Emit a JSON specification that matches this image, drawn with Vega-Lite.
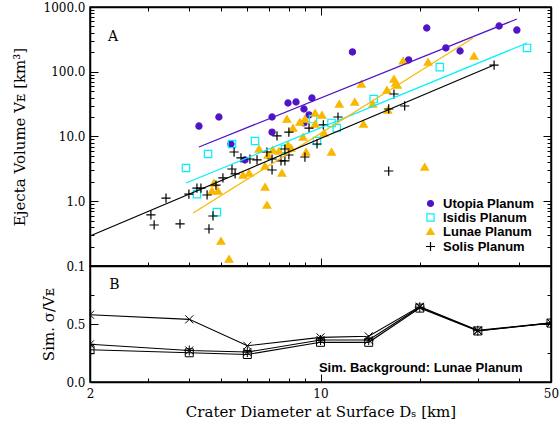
{
  "$schema": "https://vega.github.io/schema/vega-lite/v6.json",
  "background": "white",
  "padding": {"left": 11, "top": 0, "right": 1, "bottom": 0},
  "config": {
    "view": {"stroke": "black", "strokeWidth": 1.5},
    "axis": {"grid": false, "domainColor": "black", "domainWidth": 1.5, "tickColor": "black", "tickWidth": 1, "labelFont": "DejaVu Serif", "labelFontSize": 12, "labelColor": "black", "titleFont": "DejaVu Serif", "titleFontSize": 15, "titleFontWeight": "normal", "titleColor": "black", "labelOverlap": false, "labelFlush": false, "labelBound": false}
  },
  "datasets": {
    "pts": [
      {"region": "Utopia Planum", "D": 4.28, "V": 14.5},
      {"region": "Utopia Planum", "D": 4.92, "V": 20.0},
      {"region": "Utopia Planum", "D": 7.13, "V": 20.0},
      {"region": "Utopia Planum", "D": 7.13, "V": 11.7},
      {"region": "Utopia Planum", "D": 7.97, "V": 32.9},
      {"region": "Utopia Planum", "D": 8.43, "V": 34.1},
      {"region": "Utopia Planum", "D": 8.91, "V": 26.6},
      {"region": "Utopia Planum", "D": 9.23, "V": 21.5},
      {"region": "Utopia Planum", "D": 8.91, "V": 16.2},
      {"region": "Utopia Planum", "D": 9.42, "V": 39.3},
      {"region": "Utopia Planum", "D": 5.35, "V": 7.66},
      {"region": "Utopia Planum", "D": 5.90, "V": 4.34},
      {"region": "Utopia Planum", "D": 12.5, "V": 202},
      {"region": "Utopia Planum", "D": 18.5, "V": 152},
      {"region": "Utopia Planum", "D": 21.0, "V": 474},
      {"region": "Utopia Planum", "D": 24.0, "V": 233},
      {"region": "Utopia Planum", "D": 26.5, "V": 209},
      {"region": "Utopia Planum", "D": 34.8, "V": 509},
      {"region": "Utopia Planum", "D": 39.4, "V": 441},
      {"region": "Isidis Planum", "D": 3.91, "V": 3.26},
      {"region": "Isidis Planum", "D": 4.56, "V": 5.37},
      {"region": "Isidis Planum", "D": 5.39, "V": 7.66},
      {"region": "Isidis Planum", "D": 6.33, "V": 8.52},
      {"region": "Isidis Planum", "D": 7.80, "V": 6.41},
      {"region": "Isidis Planum", "D": 4.22, "V": 1.29},
      {"region": "Isidis Planum", "D": 4.85, "V": 0.68},
      {"region": "Isidis Planum", "D": 9.49, "V": 18.6},
      {"region": "Isidis Planum", "D": 9.76, "V": 8.52},
      {"region": "Isidis Planum", "D": 10.8, "V": 16.2},
      {"region": "Isidis Planum", "D": 11.2, "V": 13.5},
      {"region": "Isidis Planum", "D": 14.5, "V": 37.9},
      {"region": "Isidis Planum", "D": 23.0, "V": 118},
      {"region": "Isidis Planum", "D": 42.3, "V": 233},
      {"region": "Lunae Planum", "D": 4.75, "V": 1.91},
      {"region": "Lunae Planum", "D": 4.69, "V": 1.44},
      {"region": "Lunae Planum", "D": 4.89, "V": 1.44},
      {"region": "Lunae Planum", "D": 4.99, "V": 0.243},
      {"region": "Lunae Planum", "D": 5.28, "V": 0.128},
      {"region": "Lunae Planum", "D": 5.82, "V": 2.54},
      {"region": "Lunae Planum", "D": 6.07, "V": 2.73},
      {"region": "Lunae Planum", "D": 6.79, "V": 1.66},
      {"region": "Lunae Planum", "D": 6.88, "V": 0.875},
      {"region": "Lunae Planum", "D": 7.64, "V": 2.73},
      {"region": "Lunae Planum", "D": 6.79, "V": 3.50},
      {"region": "Lunae Planum", "D": 6.51, "V": 6.41},
      {"region": "Lunae Planum", "D": 6.93, "V": 5.18},
      {"region": "Lunae Planum", "D": 7.17, "V": 6.19},
      {"region": "Lunae Planum", "D": 7.48, "V": 5.97},
      {"region": "Lunae Planum", "D": 7.97, "V": 7.39},
      {"region": "Lunae Planum", "D": 8.14, "V": 6.64},
      {"region": "Lunae Planum", "D": 7.91, "V": 18.6},
      {"region": "Lunae Planum", "D": 8.25, "V": 13.5},
      {"region": "Lunae Planum", "D": 8.66, "V": 16.7},
      {"region": "Lunae Planum", "D": 8.97, "V": 18.6},
      {"region": "Lunae Planum", "D": 8.85, "V": 9.82},
      {"region": "Lunae Planum", "D": 9.04, "V": 5.76},
      {"region": "Lunae Planum", "D": 9.63, "V": 23.1},
      {"region": "Lunae Planum", "D": 10.1, "V": 21.5},
      {"region": "Lunae Planum", "D": 9.63, "V": 15.6},
      {"region": "Lunae Planum", "D": 10.25, "V": 11.3},
      {"region": "Lunae Planum", "D": 10.8, "V": 5.76},
      {"region": "Lunae Planum", "D": 11.4, "V": 31.8},
      {"region": "Lunae Planum", "D": 12.7, "V": 34.1},
      {"region": "Lunae Planum", "D": 13.3, "V": 64.7},
      {"region": "Lunae Planum", "D": 13.5, "V": 15.6},
      {"region": "Lunae Planum", "D": 14.4, "V": 31.8},
      {"region": "Lunae Planum", "D": 16.0, "V": 25.7},
      {"region": "Lunae Planum", "D": 15.9, "V": 52.3},
      {"region": "Lunae Planum", "D": 16.7, "V": 77.3},
      {"region": "Lunae Planum", "D": 16.9, "V": 67.0},
      {"region": "Lunae Planum", "D": 17.1, "V": 62.4},
      {"region": "Lunae Planum", "D": 17.8, "V": 147},
      {"region": "Lunae Planum", "D": 21.2, "V": 141},
      {"region": "Lunae Planum", "D": 29.2, "V": 175},
      {"region": "Lunae Planum", "D": 20.7, "V": 3.38},
      {"region": "Solis Planum", "D": 3.06, "V": 0.614},
      {"region": "Solis Planum", "D": 3.13, "V": 0.430},
      {"region": "Solis Planum", "D": 3.40, "V": 1.12},
      {"region": "Solis Planum", "D": 3.75, "V": 0.446},
      {"region": "Solis Planum", "D": 3.99, "V": 1.29},
      {"region": "Solis Planum", "D": 4.22, "V": 1.60},
      {"region": "Solis Planum", "D": 4.34, "V": 1.60},
      {"region": "Solis Planum", "D": 4.53, "V": 1.25},
      {"region": "Solis Planum", "D": 4.72, "V": 0.592},
      {"region": "Solis Planum", "D": 4.59, "V": 0.373},
      {"region": "Solis Planum", "D": 4.82, "V": 1.78},
      {"region": "Solis Planum", "D": 5.06, "V": 2.29},
      {"region": "Solis Planum", "D": 5.39, "V": 3.15},
      {"region": "Solis Planum", "D": 5.51, "V": 2.64},
      {"region": "Solis Planum", "D": 5.47, "V": 5.76},
      {"region": "Solis Planum", "D": 5.74, "V": 4.66},
      {"region": "Solis Planum", "D": 6.11, "V": 4.49},
      {"region": "Solis Planum", "D": 6.42, "V": 4.34},
      {"region": "Solis Planum", "D": 6.88, "V": 5.76},
      {"region": "Solis Planum", "D": 7.13, "V": 4.49},
      {"region": "Solis Planum", "D": 7.13, "V": 3.04},
      {"region": "Solis Planum", "D": 7.38, "V": 10.2},
      {"region": "Solis Planum", "D": 8.02, "V": 11.7},
      {"region": "Solis Planum", "D": 7.80, "V": 6.41},
      {"region": "Solis Planum", "D": 7.59, "V": 4.19},
      {"region": "Solis Planum", "D": 7.80, "V": 4.19},
      {"region": "Solis Planum", "D": 8.02, "V": 5.18},
      {"region": "Solis Planum", "D": 8.97, "V": 4.82},
      {"region": "Solis Planum", "D": 9.23, "V": 13.5},
      {"region": "Solis Planum", "D": 10.2, "V": 15.1},
      {"region": "Solis Planum", "D": 11.3, "V": 20.0},
      {"region": "Solis Planum", "D": 9.76, "V": 7.66},
      {"region": "Solis Planum", "D": 16.1, "V": 26.6},
      {"region": "Solis Planum", "D": 16.7, "V": 45.3},
      {"region": "Solis Planum", "D": 18.0, "V": 29.6},
      {"region": "Solis Planum", "D": 16.1, "V": 2.93},
      {"region": "Solis Planum", "D": 33.6, "V": 127}
    ],
    "fits": [
      {"region": "Utopia Planum", "D": 4.28, "V": 6.89},
      {"region": "Utopia Planum", "D": 39.4, "V": 653},
      {"region": "Isidis Planum", "D": 3.91, "V": 1.91},
      {"region": "Isidis Planum", "D": 42.3, "V": 278},
      {"region": "Lunae Planum", "D": 4.11, "V": 0.659},
      {"region": "Lunae Planum", "D": 29.0, "V": 332},
      {"region": "Solis Planum", "D": 2.0, "V": 0.29},
      {"region": "Solis Planum", "D": 33.6, "V": 127}
    ],
    "sim": [
      {"series": "x", "D": 2, "s": 0.58},
      {"series": "x", "D": 4, "s": 0.54},
      {"series": "x", "D": 6, "s": 0.312},
      {"series": "x", "D": 10, "s": 0.385},
      {"series": "x", "D": 14, "s": 0.394},
      {"series": "x", "D": 20, "s": 0.65},
      {"series": "x", "D": 30, "s": 0.445},
      {"series": "x", "D": 50, "s": 0.51},
      {"series": "ast", "D": 2, "s": 0.325},
      {"series": "ast", "D": 4, "s": 0.272},
      {"series": "ast", "D": 6, "s": 0.258},
      {"series": "ast", "D": 10, "s": 0.362},
      {"series": "ast", "D": 14, "s": 0.362},
      {"series": "ast", "D": 20, "s": 0.645},
      {"series": "ast", "D": 30, "s": 0.442},
      {"series": "ast", "D": 50, "s": 0.508},
      {"series": "sq", "D": 2, "s": 0.278},
      {"series": "sq", "D": 4, "s": 0.252},
      {"series": "sq", "D": 6, "s": 0.237},
      {"series": "sq", "D": 10, "s": 0.342},
      {"series": "sq", "D": 14, "s": 0.342},
      {"series": "sq", "D": 20, "s": 0.637},
      {"series": "sq", "D": 30, "s": 0.44},
      {"series": "sq", "D": 50, "s": 0.508}
    ]
  },
  "spacing": 0,
  "bounds": "flush",
  "resolve": {
    "scale": {"shape": "independent", "fill": "independent", "stroke": "independent", "color": "independent"},
    "legend": {"shape": "independent", "fill": "independent", "stroke": "independent", "color": "independent"}
  },
  "vconcat": [
    {
      "width": 461,
      "height": 259,
      "resolve": {"scale": {"x": "independent", "y": "independent"}},
      "layer": [
        {
          "data": {"name": "pts"},
          "mark": {"type": "point", "filled": true, "size": 38, "strokeWidth": 1.2, "opacity": 1},
          "encoding": {
            "x": {"field": "D", "type": "quantitative",
              "scale": {"type": "log", "domain": [2, 50], "nice": false},
              "axis": {"orient": "bottom", "values": [2,3,4,5,6,7,8,9,10,20,30,40,50], "labels": false, "title": null,
                "tickSize": {"condition": {"test": "indexof([2,10,50], datum.value) >= 0", "value": -8}, "value": -4}}},
            "y": {"field": "V", "type": "quantitative",
              "scale": {"type": "log", "domain": [0.1, 1000], "nice": false},
              "axis": {"orient": "left", "values": [0.1,0.2,0.3,0.4,0.5,0.6,0.7,0.8,0.9,1,2,3,4,5,6,7,8,9,10,20,30,40,50,60,70,80,90,100,200,300,400,500,600,700,800,900,1000],
                "labelExpr": "indexof([0.1,1,10,100,1000], datum.value) >= 0 ? format(datum.value, '.1f') : ''",
                "labelPadding": 13,
                "tickSize": {"condition": {"test": "indexof([0.1,1,10,100,1000], datum.value) >= 0", "value": -8}, "value": -4},
                "title": "Ejecta Volume Vᴇ [km³]", "titleX": -71, "titleBaseline": "middle", "titleAlign": "center", "titleAngle": 270}},
            "shape": {"field": "region", "type": "nominal",
              "scale": {"domain": ["Utopia Planum", "Isidis Planum", "Lunae Planum", "Solis Planum"],
                "range": ["circle", "M-1.2,-1.2L1.2,-1.2L1.2,1.2L-1.2,1.2Z", "M0,-1.1L1.25,1L-1.25,1Z", "M-1.5,0L1.5,0M0,-1.5L0,1.5"]},
              "legend": {"title": null, "orient": "none", "legendX": 334, "legendY": 190, "padding": 0, "labelFont": "Liberation Sans", "labelFontWeight": "bold", "labelFontSize": 13, "labelColor": "black", "symbolSize": 36, "symbolStrokeWidth": 1.2, "rowPadding": 0, "labelOffset": 6}},
            "fill": {"field": "region", "type": "nominal",
              "scale": {"domain": ["Utopia Planum", "Isidis Planum", "Lunae Planum", "Solis Planum"],
                "range": ["#5014c8", "transparent", "#f9b800", "transparent"]},
              "legend": {"title": null, "orient": "none", "legendX": 334, "legendY": 190, "padding": 0, "labelFont": "Liberation Sans", "labelFontWeight": "bold", "labelFontSize": 13, "labelColor": "black", "symbolSize": 36, "symbolStrokeWidth": 1.2, "rowPadding": 0, "labelOffset": 6}},
            "stroke": {"field": "region", "type": "nominal",
              "scale": {"domain": ["Utopia Planum", "Isidis Planum", "Lunae Planum", "Solis Planum"],
                "range": ["#5014c8", "#00f0ff", "#f9b800", "#000000"]},
              "legend": {"title": null, "orient": "none", "legendX": 334, "legendY": 190, "padding": 0, "labelFont": "Liberation Sans", "labelFontWeight": "bold", "labelFontSize": 13, "labelColor": "black", "symbolSize": 36, "symbolStrokeWidth": 1.2, "rowPadding": 0, "labelOffset": 6}}
          }
        },
        {
          "data": {"name": "fits"},
          "mark": {"type": "line", "strokeWidth": 1.2},
          "encoding": {
            "x": {"field": "D", "type": "quantitative",
              "scale": {"type": "log", "domain": [2, 50], "nice": false},
              "axis": {"orient": "top", "values": [2,3,4,5,6,7,8,9,10,20,30,40,50], "labels": false, "title": null,
                "tickSize": {"condition": {"test": "indexof([2,10,50], datum.value) >= 0", "value": -8}, "value": -4}}},
            "y": {"field": "V", "type": "quantitative",
              "scale": {"type": "log", "domain": [0.1, 1000], "nice": false},
              "axis": {"orient": "right", "values": [0.1,0.2,0.3,0.4,0.5,0.6,0.7,0.8,0.9,1,2,3,4,5,6,7,8,9,10,20,30,40,50,60,70,80,90,100,200,300,400,500,600,700,800,900,1000], "labels": false, "title": null,
                "tickSize": {"condition": {"test": "indexof([0.1,1,10,100,1000], datum.value) >= 0", "value": -8}, "value": -4}}},
            "stroke": {"field": "region", "type": "nominal",
              "scale": {"domain": ["Utopia Planum", "Isidis Planum", "Lunae Planum", "Solis Planum"],
                "range": ["#5014c8", "#00f0ff", "#f9b800", "#000000"]},
              "legend": null},
            "detail": {"field": "region"}
          }
        },
        {
          "data": {"values": [{"D": 2.35, "V": 344, "t": "A"}]},
          "mark": {"type": "text", "font": "DejaVu Serif", "fontSize": 14, "align": "center", "baseline": "middle", "color": "black"},
          "encoding": {
            "x": {"field": "D", "type": "quantitative", "scale": {"type": "log", "domain": [2, 50], "nice": false}, "axis": null},
            "y": {"field": "V", "type": "quantitative", "scale": {"type": "log", "domain": [0.1, 1000], "nice": false}, "axis": null},
            "text": {"field": "t"}
          }
        }
      ]
    },
    {
      "width": 461,
      "height": 116,
      "resolve": {"scale": {"x": "independent", "y": "independent"}},
      "layer": [
        {
          "data": {"name": "sim"},
          "mark": {"type": "line", "color": "black", "strokeWidth": 1.1, "clip": true},
          "encoding": {
            "x": {"field": "D", "type": "quantitative",
              "scale": {"type": "log", "domain": [2, 50], "nice": false},
              "axis": {"orient": "bottom", "values": [2,3,4,5,6,7,8,9,10,20,30,40,50],
                "labelExpr": "indexof([2,10,50], datum.value) >= 0 ? format(datum.value, 'd') : ''",
                "labelPadding": 14,
                "tickSize": {"condition": {"test": "indexof([2,10,50], datum.value) >= 0", "value": -8}, "value": -4},
                "title": "Crater Diameter at Surface Dₛ [km]", "titlePadding": 1}},
            "y": {"field": "s", "type": "quantitative",
              "scale": {"domain": [0, 1], "nice": false, "zero": false},
              "axis": {"orient": "left", "values": [0, 0.25, 0.5, 0.75, 1],
                "labelExpr": "datum.value == 0 || datum.value == 0.5 ? format(datum.value, '.1f') : ''",
                "labelPadding": 13,
                "tickSize": {"condition": {"test": "datum.value == 0 || datum.value == 0.5 || datum.value == 1", "value": -8}, "value": -4},
                "title": "Sim. σ/Vᴇ", "titleX": -42, "titleBaseline": "middle", "titleAlign": "center", "titleAngle": 270}},
            "detail": {"field": "series"}
          }
        },
        {
          "data": {"name": "sim"},
          "mark": {"type": "point", "filled": false, "size": 64, "strokeWidth": 1, "color": "black", "opacity": 1, "clip": true},
          "encoding": {
            "x": {"field": "D", "type": "quantitative", "scale": {"type": "log", "domain": [2, 50], "nice": false}, "axis": null},
            "y": {"field": "s", "type": "quantitative", "scale": {"domain": [0, 1], "nice": false, "zero": false}, "axis": null},
            "shape": {"field": "series", "type": "nominal",
              "scale": {"domain": ["x", "ast", "sq"], "range": ["M-1,-1L1,1M-1,1L1,-1", "M-1,-1L1,1M-1,1L1,-1M-1.25,0L1.25,0M0,-1.25L0,1.25", "square"]},
              "legend": null}
          }
        },
        {
          "data": {"values": [{"D": 2.37, "s": 0.836, "t": "B"}]},
          "mark": {"type": "text", "font": "DejaVu Serif", "fontSize": 14, "align": "center", "baseline": "middle", "color": "black"},
          "encoding": {
            "x": {"field": "D", "type": "quantitative", "scale": {"type": "log", "domain": [2, 50], "nice": false}, "axis": null},
            "y": {"field": "s", "type": "quantitative", "scale": {"domain": [0, 1], "nice": false, "zero": false},
              "axis": {"orient": "right", "values": [0, 0.25, 0.5, 0.75, 1], "labels": false, "title": null,
                "tickSize": {"condition": {"test": "datum.value == 0 || datum.value == 0.5 || datum.value == 1", "value": -8}, "value": -4}}},
            "text": {"field": "t"}
          }
        },
        {
          "data": {"values": [{"D": 41, "s": 0.12, "t": "Sim. Background: Lunae Planum"}]},
          "mark": {"type": "text", "font": "Liberation Sans", "fontWeight": "bold", "fontSize": 13, "align": "right", "baseline": "middle", "color": "black"},
          "encoding": {
            "x": {"field": "D", "type": "quantitative", "scale": {"type": "log", "domain": [2, 50], "nice": false}, "axis": null},
            "y": {"field": "s", "type": "quantitative", "scale": {"domain": [0, 1], "nice": false, "zero": false}, "axis": null},
            "text": {"field": "t"}
          }
        }
      ]
    }
  ]
}
